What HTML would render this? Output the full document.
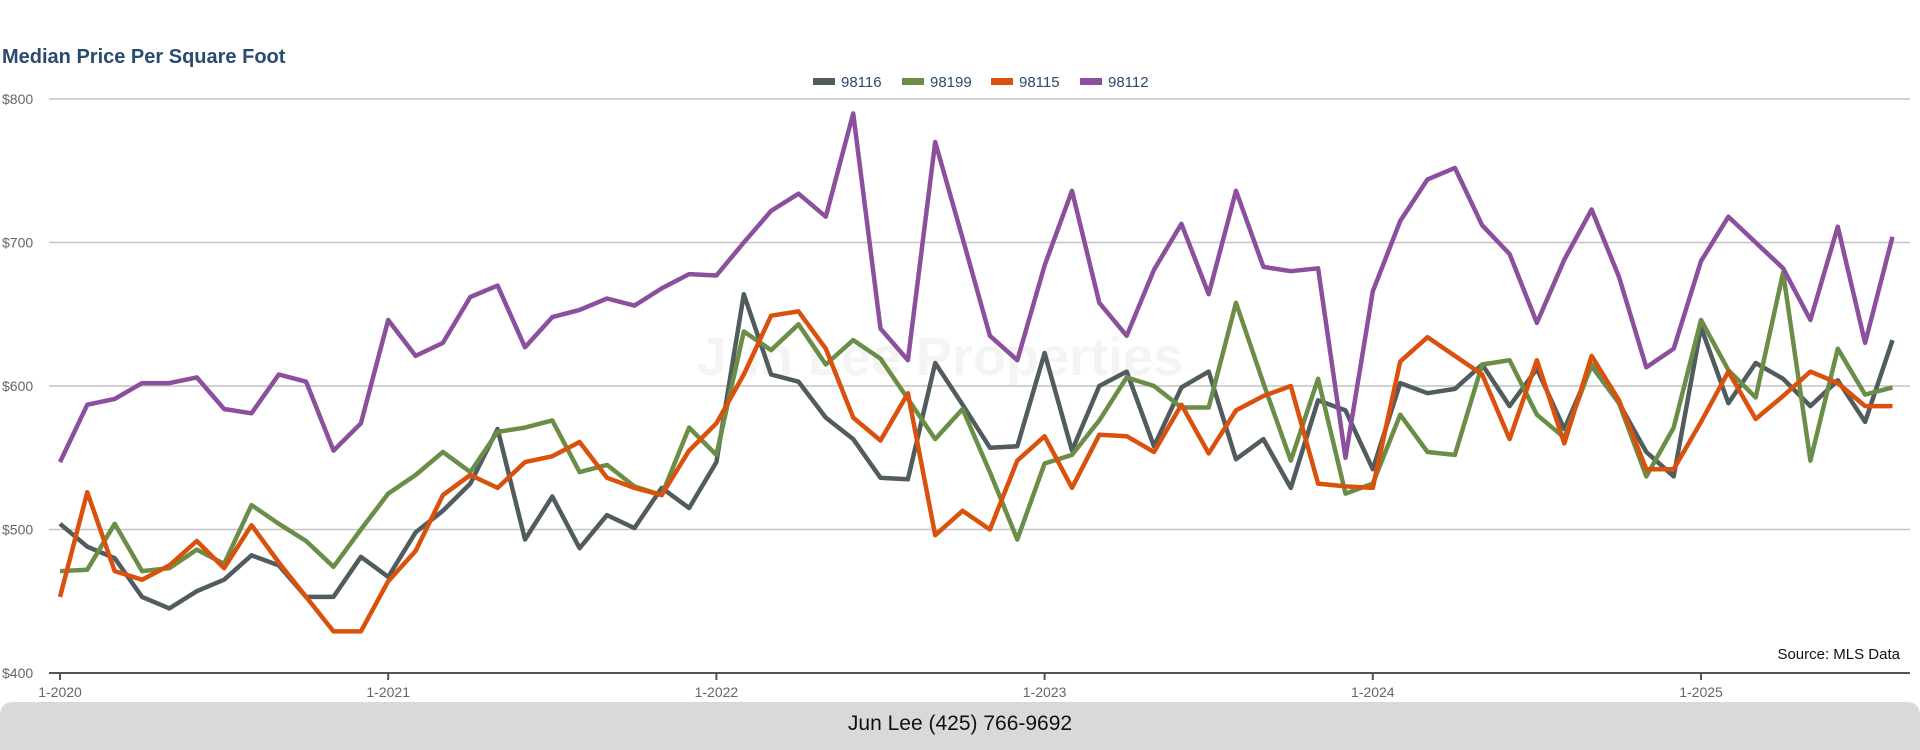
<!DOCTYPE html>
<html><head><meta charset="utf-8"><style>
html,body{margin:0;padding:0;background:#fff;width:1920px;height:750px;overflow:hidden;font-family:"Liberation Sans",sans-serif;}
</style></head><body>
<svg width="1920" height="750" xmlns="http://www.w3.org/2000/svg">
<text x="2" y="63" font-size="20" font-weight="bold" fill="#2b4a6f" font-family="Liberation Sans, sans-serif">Median Price Per Square Foot</text>
<text x="940" y="375" font-size="54" font-weight="bold" fill="#f4f4f4" text-anchor="middle" font-family="Liberation Sans, sans-serif">Jun Lee Properties</text>
<g id="grid"></g>
<g id="lines"></g>
<g id="legend"></g>
<text x="1900" y="659" font-size="15" fill="#111" text-anchor="end" font-family="Liberation Sans, sans-serif">Source: MLS Data</text>
<path d="M0,750 L0,716 Q0,702 14,702 L1906,702 Q1920,702 1920,716 L1920,750 Z" fill="#d9d9d9"/>
<text x="960" y="730" font-size="21" fill="#111" text-anchor="middle" font-family="Liberation Sans, sans-serif">Jun Lee (425) 766-9692</text>
</svg>
<script>
const seriesNames = ["98116","98199","98115","98112"];
const s98116 = [504,488,480,453,445,457,465,482,475,453,453,481,467,498,513,532,570,493,523,487,510,501,529,515,547,664,608,603,578,563,536,535,616,587,557,558,623,555,600,610,558,599,610,549,563,529,590,583,542,602,595,598,615,586,612,570,614,588,554,537,641,588,616,605,586,604,575,632];
const s98199 = [471,472,504,471,473,486,476,517,504,492,474,500,525,538,554,540,568,571,576,540,545,530,524,571,552,638,625,643,615,632,619,591,563,584,540,493,546,552,576,606,600,585,585,658,602,548,605,525,532,580,554,552,615,618,580,564,615,588,537,571,646,611,592,679,548,626,594,599];
const s98115 = [453,526,471,465,475,492,473,503,477,453,429,429,464,485,524,538,529,547,551,561,536,529,524,555,574,608,649,652,626,578,562,595,496,513,500,548,565,529,566,565,554,587,553,583,593,600,532,530,529,617,634,621,608,563,618,560,621,590,542,542,575,610,577,593,610,602,586,586];
const s98112 = [547,587,591,602,602,606,584,581,608,603,555,574,646,621,630,662,670,627,648,653,661,656,668,678,677,700,722,734,718,790,640,618,770,703,635,618,684,736,658,635,681,713,664,736,683,680,682,550,666,715,744,752,712,692,644,688,723,676,613,626,687,718,700,682,646,711,630,704];
const yTicks = [400,500,600,700,800];
const yTickLabels = ["$400","$500","$600","$700","$800"];
const xTickMonths = [0,12,24,36,48,60];
const xTickLabels = ["1-2020","1-2021","1-2022","1-2023","1-2024","1-2025"];

const colors = ["#515c5f","#6a8e47","#d9510c","#8c4f9e"];
const NS="http://www.w3.org/2000/svg";
function xScale(m){return 60 + m*27.35;}
function yScale(v){return 673 - (v-400)*1.435;}
function mk(tag,attrs,parent){const e=document.createElementNS(NS,tag);for(const k in attrs)e.setAttribute(k,attrs[k]);parent.appendChild(e);return e;}
const grid=document.getElementById('grid');
yTicks.forEach((t,i)=>{
  if(t>400){const l=mk('line',{x1:49,x2:1910,y1:yScale(t),y2:yScale(t),stroke:'#c4c4c4','stroke-width':1.5},grid);
  
  }
  const tx=mk('text',{x:2,y:yScale(t)+5,'font-size':14,fill:'#666','font-family':'Liberation Sans, sans-serif'},grid);
  tx.textContent=yTickLabels[i];
  
  
});
const ax=mk('line',{x1:49,x2:1910,y1:673,y2:673,stroke:'#555','stroke-width':2},grid);


xTickMonths.forEach((m,i)=>{
  const tk=mk('line',{x1:xScale(m),x2:xScale(m),y1:673,y2:680,stroke:'#555','stroke-width':2},grid);
  
  
  const tx=mk('text',{x:xScale(m),y:697,'font-size':14,fill:'#666','text-anchor':'middle','font-family':'Liberation Sans, sans-serif'},grid);
  tx.textContent=xTickLabels[i];
  
  
});
const lines=document.getElementById('lines');
[s98116,s98199,s98115,s98112].forEach((s,i)=>{
  const d=s.map((v,m)=>(m?'L':'M')+xScale(m).toFixed(1)+','+yScale(v).toFixed(1)).join(' ');
  const p=mk('path',{d:d,fill:'none',stroke:colors[i],'stroke-width':4.5,'stroke-linejoin':'round'},lines);
  
  
});
const leg=document.getElementById('legend');
const lx=[813,902,991,1080];
seriesNames.forEach((n,i)=>{
  const g=mk('g',{},leg);
  
  
  mk('rect',{x:lx[i],y:78,width:22,height:7,fill:colors[i]},g);
  const t=mk('text',{x:lx[i]+28,y:87,'font-size':15,fill:'#2b4a6f','font-family':'Liberation Sans, sans-serif'},g);
  t.textContent=n;
});
</script>
</body></html>
